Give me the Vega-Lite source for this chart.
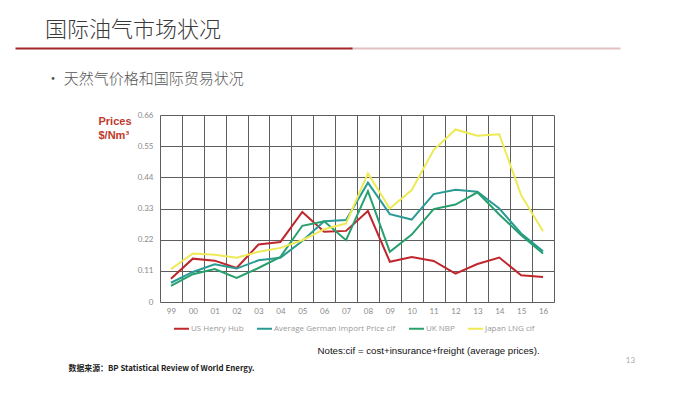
{
  "$schema": "https://vega.github.io/schema/vega-lite/v6.json",
  "autosize": {"type": "none"},
  "padding": {"left": 160, "top": 115, "right": 135, "bottom": 93},
  "width": 394,
  "height": 187,
  "background": "#ffffff",
  "config": {
    "view": {"stroke": null},
    "font": "Liberation Sans"
  },
  "title": {
    "text": "国际油气市场状况",
    "anchor": "start",
    "frame": "group",
    "dx": -115,
    "offset": 6,
    "font": "Noto Sans CJK SC",
    "fontSize": 22,
    "fontWeight": 300,
    "color": "#3a3a3a"
  },
  "data": {
    "values": [
      {"year": "99", "series": "US Henry Hub", "value": 0.082},
      {"year": "00", "series": "US Henry Hub", "value": 0.153},
      {"year": "01", "series": "US Henry Hub", "value": 0.146},
      {"year": "02", "series": "US Henry Hub", "value": 0.120},
      {"year": "03", "series": "US Henry Hub", "value": 0.203},
      {"year": "04", "series": "US Henry Hub", "value": 0.212},
      {"year": "05", "series": "US Henry Hub", "value": 0.318},
      {"year": "06", "series": "US Henry Hub", "value": 0.248},
      {"year": "07", "series": "US Henry Hub", "value": 0.251},
      {"year": "08", "series": "US Henry Hub", "value": 0.321},
      {"year": "09", "series": "US Henry Hub", "value": 0.142},
      {"year": "10", "series": "US Henry Hub", "value": 0.159},
      {"year": "11", "series": "US Henry Hub", "value": 0.145},
      {"year": "12", "series": "US Henry Hub", "value": 0.100},
      {"year": "13", "series": "US Henry Hub", "value": 0.134},
      {"year": "14", "series": "US Henry Hub", "value": 0.157},
      {"year": "15", "series": "US Henry Hub", "value": 0.094},
      {"year": "16", "series": "US Henry Hub", "value": 0.088},
      {"year": "99", "series": "Average German Import Price cif", "value": 0.068},
      {"year": "00", "series": "Average German Import Price cif", "value": 0.106},
      {"year": "01", "series": "Average German Import Price cif", "value": 0.133},
      {"year": "02", "series": "Average German Import Price cif", "value": 0.118},
      {"year": "03", "series": "Average German Import Price cif", "value": 0.147},
      {"year": "04", "series": "Average German Import Price cif", "value": 0.156},
      {"year": "05", "series": "Average German Import Price cif", "value": 0.215},
      {"year": "06", "series": "Average German Import Price cif", "value": 0.285},
      {"year": "07", "series": "Average German Import Price cif", "value": 0.289},
      {"year": "08", "series": "Average German Import Price cif", "value": 0.421},
      {"year": "09", "series": "Average German Import Price cif", "value": 0.310},
      {"year": "10", "series": "Average German Import Price cif", "value": 0.291},
      {"year": "11", "series": "Average German Import Price cif", "value": 0.381},
      {"year": "12", "series": "Average German Import Price cif", "value": 0.396},
      {"year": "13", "series": "Average German Import Price cif", "value": 0.389},
      {"year": "14", "series": "Average German Import Price cif", "value": 0.330},
      {"year": "15", "series": "Average German Import Price cif", "value": 0.242},
      {"year": "16", "series": "Average German Import Price cif", "value": 0.179},
      {"year": "99", "series": "UK NBP", "value": 0.057},
      {"year": "00", "series": "UK NBP", "value": 0.098},
      {"year": "01", "series": "UK NBP", "value": 0.116},
      {"year": "02", "series": "UK NBP", "value": 0.085},
      {"year": "03", "series": "UK NBP", "value": 0.120},
      {"year": "04", "series": "UK NBP", "value": 0.159},
      {"year": "05", "series": "UK NBP", "value": 0.269},
      {"year": "06", "series": "UK NBP", "value": 0.285},
      {"year": "07", "series": "UK NBP", "value": 0.218},
      {"year": "08", "series": "UK NBP", "value": 0.391},
      {"year": "09", "series": "UK NBP", "value": 0.177},
      {"year": "10", "series": "UK NBP", "value": 0.238},
      {"year": "11", "series": "UK NBP", "value": 0.328},
      {"year": "12", "series": "UK NBP", "value": 0.344},
      {"year": "13", "series": "UK NBP", "value": 0.387},
      {"year": "14", "series": "UK NBP", "value": 0.309},
      {"year": "15", "series": "UK NBP", "value": 0.236},
      {"year": "16", "series": "UK NBP", "value": 0.171},
      {"year": "99", "series": "Japan LNG cif", "value": 0.116},
      {"year": "00", "series": "Japan LNG cif", "value": 0.171},
      {"year": "01", "series": "Japan LNG cif", "value": 0.167},
      {"year": "02", "series": "Japan LNG cif", "value": 0.156},
      {"year": "03", "series": "Japan LNG cif", "value": 0.177},
      {"year": "04", "series": "Japan LNG cif", "value": 0.191},
      {"year": "05", "series": "Japan LNG cif", "value": 0.218},
      {"year": "06", "series": "Japan LNG cif", "value": 0.257},
      {"year": "07", "series": "Japan LNG cif", "value": 0.277},
      {"year": "08", "series": "Japan LNG cif", "value": 0.454},
      {"year": "09", "series": "Japan LNG cif", "value": 0.330},
      {"year": "10", "series": "Japan LNG cif", "value": 0.395},
      {"year": "11", "series": "Japan LNG cif", "value": 0.536},
      {"year": "12", "series": "Japan LNG cif", "value": 0.609},
      {"year": "13", "series": "Japan LNG cif", "value": 0.587},
      {"year": "14", "series": "Japan LNG cif", "value": 0.592},
      {"year": "15", "series": "Japan LNG cif", "value": 0.377},
      {"year": "16", "series": "Japan LNG cif", "value": 0.250}
    ]
  },
  "resolve": {
    "scale": {"x": "independent", "y": "independent"},
    "axis": {"x": "independent", "y": "independent"}
  },
  "layer": [
    {
      "mark": {"type": "line", "opacity": 0},
      "encoding": {
        "x": {
          "field": "value",
          "type": "quantitative",
          "scale": {"range": [190, 460]},
          "axis": {
            "orient": "top",
            "offset": 67,
            "labels": false,
            "ticks": false,
            "grid": false,
            "domain": true,
            "domainColor": "#e0bfc0",
            "domainWidth": 2,
            "title": null
          }
        },
        "y": {"field": "value", "type": "quantitative", "axis": null}
      }
    },
    {
      "mark": {"type": "line", "strokeWidth": 2, "clip": true},
      "encoding": {
        "x": {
          "field": "year",
          "type": "ordinal",
          "sort": null,
          "bandPosition": 0.5,
          "scale": {"type": "band", "paddingInner": 0, "paddingOuter": 0},
          "axis": {
            "orient": "bottom",
            "tickBand": "extent",
            "grid": true,
            "gridColor": "#5e5e5e",
            "gridWidth": 1,
            "ticks": false,
            "domain": false,
            "labelAngle": 0,
            "labelFont": "Lato",
            "labelFontSize": 8,
            "labelColor": "#8a8a8a",
            "labelPadding": 5,
            "title": "Notes:cif = cost+insurance+freight (average prices).",
            "titleX": 157,
            "titleY": 48,
            "titleAlign": "left",
            "titleAnchor": null,
            "titleBaseline": "middle",
            "titleFont": "Liberation Sans",
            "titleFontSize": 9.7,
            "titleFontWeight": "normal",
            "titleColor": "#111111"
          }
        },
        "y": {
          "field": "value",
          "type": "quantitative",
          "scale": {"domain": [0, 0.66], "nice": false, "zero": true},
          "axis": {
            "orient": "left",
            "values": [0, 0.11, 0.22, 0.33, 0.44, 0.55, 0.66],
            "format": ".2~f",
            "grid": true,
            "gridColor": "#5e5e5e",
            "gridWidth": 1,
            "ticks": false,
            "domain": false,
            "labelFont": "Lato",
            "labelFontSize": 8,
            "labelColor": "#8a8a8a",
            "labelPadding": 7,
            "title": ["Prices", "$/Nm³"],
            "titleAngle": 0,
            "titleAlign": "left",
            "titleAnchor": null,
            "titleBaseline": "middle",
            "titleX": -62,
            "titleY": 6,
            "titleFont": "Liberation Sans",
            "titleFontSize": 11,
            "titleFontWeight": "bold",
            "titleLineHeight": 14,
            "titleColor": "#c0392b"
          }
        },
        "color": {
          "field": "series",
          "type": "nominal",
          "sort": null,
          "scale": {
            "domain": ["US Henry Hub", "Average German Import Price cif", "UK NBP", "Japan LNG cif"],
            "range": ["#c0272d", "#2a9a95", "#27a06d", "#eeea55"]
          },
          "legend": {
            "orient": "none",
            "direction": "horizontal",
            "legendX": 13,
            "legendY": 205,
            "title": null,
            "symbolType": "stroke",
            "symbolSize": 225,
            "symbolStrokeWidth": 2,
            "labelFont": "Open Sans",
            "labelFontSize": 8,
            "labelColor": "#999999",
            "labelOffset": 1,
            "columnPadding": 9
          }
        }
      }
    },
    {
      "mark": {"type": "line", "opacity": 0},
      "encoding": {
        "x": {
          "field": "year",
          "type": "ordinal",
          "sort": null,
          "axis": {
            "orient": "bottom",
            "labels": false,
            "ticks": false,
            "domain": false,
            "grid": false,
            "title": "数据来源：BP Statistical Review of World Energy.",
            "titleX": -92,
            "titleY": 66,
            "titleAlign": "left",
            "titleAnchor": null,
            "titleBaseline": "middle",
            "titleFont": "Noto Sans CJK SC",
            "titleFontSize": 7.9,
            "titleFontWeight": "bold",
            "titleColor": "#222222"
          }
        },
        "y": {
          "field": "value",
          "type": "quantitative",
          "axis": {
            "orient": "right",
            "labels": false,
            "ticks": false,
            "domain": false,
            "grid": false,
            "title": "13",
            "titleAngle": 0,
            "titleX": 76,
            "titleY": 245,
            "titleAlign": "center",
            "titleAnchor": null,
            "titleBaseline": "middle",
            "titleFont": "Lato",
            "titleFontSize": 8,
            "titleFontWeight": "normal",
            "titleColor": "#aaaaaa"
          }
        }
      }
    },
    {
      "mark": {"type": "line", "opacity": 0},
      "encoding": {
        "x": {
          "field": "value",
          "type": "quantitative",
          "scale": {"range": [-145, 192]},
          "axis": {
            "orient": "top",
            "offset": 67,
            "labels": false,
            "ticks": false,
            "grid": false,
            "domain": true,
            "domainColor": "#a4262c",
            "domainWidth": 2,
            "title": "• 天然气价格和国际贸易状况",
            "titleX": -115,
            "titleY": 30,
            "titleAlign": "left",
            "titleAnchor": null,
            "titleBaseline": "middle",
            "titleFont": "Noto Sans CJK SC",
            "titleFontSize": 15,
            "titleFontWeight": 300,
            "titleColor": "#555555"
          }
        },
        "y": {"field": "value", "type": "quantitative", "axis": null}
      }
    }
  ]
}
